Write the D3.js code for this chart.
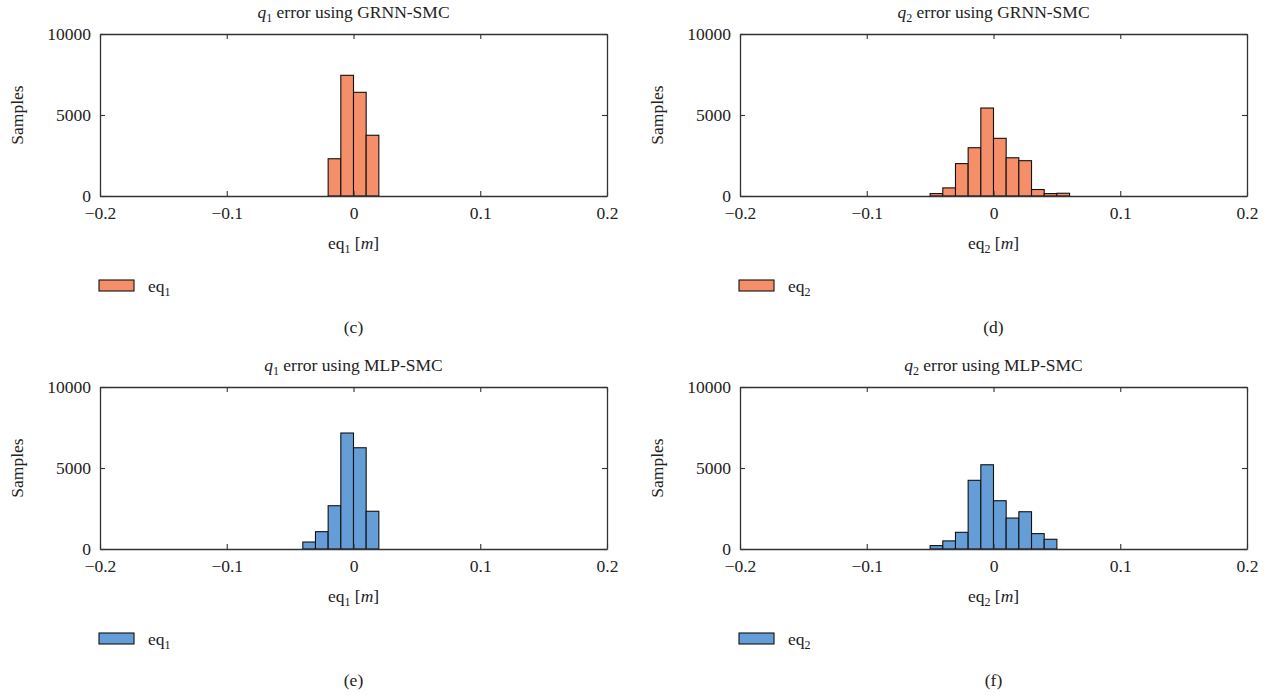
<!DOCTYPE html>
<html>
<head>
<meta charset="utf-8">
<script src="https://cdn.jsdelivr.net/npm/d3@7"></script>
<style>
  body { margin: 0; background: #fff; }
  svg text { font-family: "Liberation Serif", "DejaVu Serif", serif; fill: #222; }
</style>
</head>
<body>
<svg id="chart" width="1274" height="695"></svg>
<script>
// bin left edges (width 0.01) and sample counts for each histogram
const binWidth = 0.01;
const q1GrnnBins = [-0.02, -0.01, 0, 0.01];
const q1GrnnCounts = [2300, 7450, 6400, 3750];
const q2GrnnBins = [-0.05, -0.04, -0.03, -0.02, -0.01, 0, 0.01, 0.02, 0.03, 0.04, 0.05];
const q2GrnnCounts = [150, 500, 2000, 2980, 5430, 3560, 2360, 2180, 400, 150, 170];
const q1MlpBins = [-0.04, -0.03, -0.02, -0.01, 0, 0.01];
const q1MlpCounts = [430, 1070, 2670, 7160, 6250, 2330];
const q2MlpBins = [-0.05, -0.04, -0.03, -0.02, -0.01, 0, 0.01, 0.02, 0.03, 0.04];
const q2MlpCounts = [210, 500, 1030, 4240, 5200, 2980, 1910, 2300, 950, 600];

const xTicks = [-0.2, -0.1, 0, 0.1, 0.2];
const yTicks = [0, 5000, 10000];
const orange = "#f58f69";
const blue = "#659ed7";

const panels = [
  {q: "1", method: "GRNN-SMC", bins: q1GrnnBins, counts: q1GrnnCounts, color: orange, cap: "(c)", x0: 100, y0: 0},
  {q: "2", method: "GRNN-SMC", bins: q2GrnnBins, counts: q2GrnnCounts, color: orange, cap: "(d)", x0: 740, y0: 0},
  {q: "1", method: "MLP-SMC", bins: q1MlpBins, counts: q1MlpCounts, color: blue, cap: "(e)", x0: 100, y0: 353},
  {q: "2", method: "MLP-SMC", bins: q2MlpBins, counts: q2MlpCounts, color: blue, cap: "(f)", x0: 740, y0: 353}
];

const svg = d3.select("#chart");
const pw = 507, plotTop = 34, ph = 162;
const fs = 17.5, subFs = 12;

panels.forEach(p => {
  const g = svg.append("g").attr("transform", `translate(${p.x0},${p.y0})`);
  const x = d3.scaleLinear().domain([-0.2, 0.2]).range([0, pw]);
  const y = d3.scaleLinear().domain([0, 10000]).range([plotTop + ph, plotTop]);
  const cx = pw / 2;

  // bars
  g.selectAll("rect.bar")
    .data(p.bins.map((b, i) => ({b: b, c: p.counts[i]})))
    .enter().append("rect")
    .attr("class", "bar")
    .attr("x", d => x(d.b))
    .attr("y", d => y(d.c))
    .attr("width", d => x(d.b + binWidth) - x(d.b))
    .attr("height", d => y(0) - y(d.c))
    .attr("fill", p.color)
    .attr("stroke", "#111")
    .attr("stroke-width", 1.1);

  // box with inward ticks
  const bottom = d3.axisBottom(x).tickValues(xTicks).tickSizeInner(-5).tickSizeOuter(0)
    .tickPadding(11).tickFormat(d => d === 0 ? "0" : d3.format(".1f")(d).replace("-", "\u2212"));
  const topAx = d3.axisTop(x).tickValues(xTicks).tickSizeInner(-5).tickSizeOuter(0).tickFormat("");
  const left = d3.axisLeft(y).tickValues(yTicks).tickSizeInner(-5).tickSizeOuter(0).tickPadding(9)
    .tickFormat(d3.format("d"));
  const right = d3.axisRight(y).tickValues(yTicks).tickSizeInner(-5).tickSizeOuter(0).tickFormat("");

  const styleAx = sel => {
    sel.attr("font-size", fs).attr("font-family", null);
    sel.selectAll("path").attr("stroke", "#333").attr("stroke-width", 1.3);
    sel.selectAll("line").attr("stroke", "#333").attr("stroke-width", 1.1);
    sel.selectAll("text").attr("fill", "#222");
  };
  g.append("g").attr("transform", `translate(0,${plotTop + ph})`).call(bottom).call(styleAx);
  g.append("g").attr("transform", `translate(0,${plotTop})`).call(topAx).call(styleAx);
  g.append("g").call(left).call(styleAx);
  g.append("g").attr("transform", `translate(${pw},0)`).call(right).call(styleAx);

  // title
  const t = g.append("text").attr("x", cx).attr("y", 18).attr("text-anchor", "middle").attr("font-size", fs);
  t.append("tspan").attr("font-style", "italic").text("q");
  t.append("tspan").attr("font-size", subFs).attr("dy", 4).text(p.q);
  t.append("tspan").attr("dy", -4).text(" error using " + p.method);

  // y label
  g.append("text").attr("transform", `translate(-77,${plotTop + ph / 2}) rotate(-90)`)
    .attr("text-anchor", "middle").attr("font-size", fs).text("Samples");

  // x label
  const xl = g.append("text").attr("x", cx).attr("y", 249).attr("text-anchor", "middle").attr("font-size", fs);
  xl.append("tspan").text("eq");
  xl.append("tspan").attr("font-size", subFs).attr("dy", 4).text(p.q);
  xl.append("tspan").attr("dy", -4).text(" [");
  xl.append("tspan").attr("font-style", "italic").text("m");
  xl.append("tspan").text("]");

  // legend
  g.append("rect").attr("x", -1).attr("y", 280).attr("width", 35).attr("height", 11)
    .attr("fill", p.color).attr("stroke", "#111").attr("stroke-width", 1.1);
  const lt = g.append("text").attr("x", 48).attr("y", 292).attr("font-size", fs);
  lt.append("tspan").text("eq");
  lt.append("tspan").attr("font-size", subFs).attr("dy", 4).text(p.q);

  // caption
  g.append("text").attr("x", cx).attr("y", 333).attr("text-anchor", "middle").attr("font-size", fs).text(p.cap);
});
</script>
</body>
</html>
